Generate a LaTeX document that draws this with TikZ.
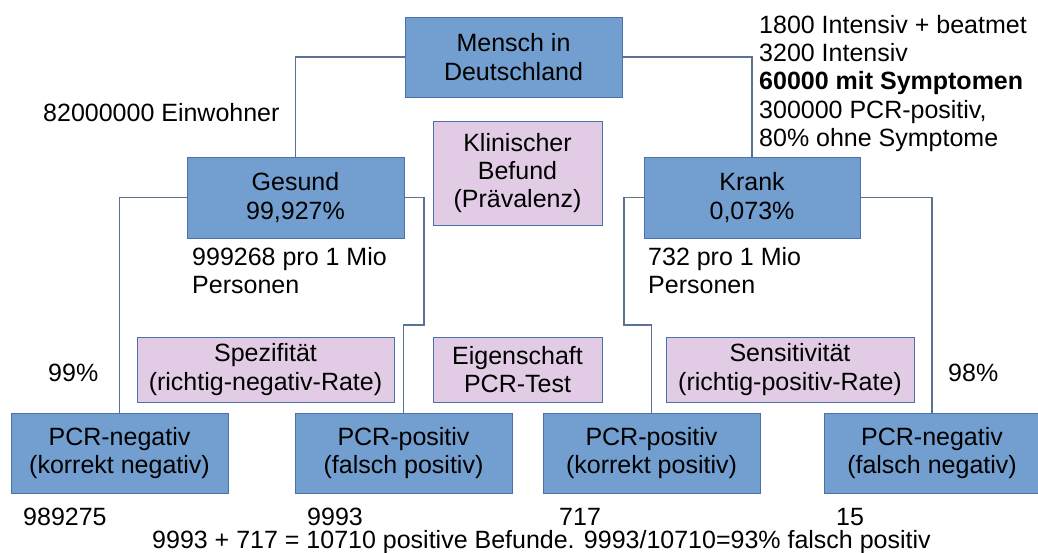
\documentclass[tikz,border=0pt]{standalone}
\usepackage{fontspec}
\setmainfont{Liberation Sans}
\definecolor{boxblue}{HTML}{729FCF}
\definecolor{boxedge}{HTML}{4A72A8}
\definecolor{boxpink}{HTML}{E2CCE5}
\definecolor{wire}{HTML}{5B7393}
\begin{document}
\begin{tikzpicture}[x=1pt,y=-1pt,
  every node/.style={font=\fontsize{25}{28.3}\selectfont, text=black},
  bluebox/.style={draw=boxedge, line width=1pt, fill=boxblue, align=center, minimum width=217pt, minimum height=81pt, inner sep=0pt},
  pinkbox/.style={draw=boxedge, line width=0.8pt, fill=boxpink, align=center, minimum height=65pt, inner sep=0pt},
  lbl/.style={anchor=base west, inner sep=0pt},
  wireline/.style={draw=wire, line width=1.2pt}]
\useasboundingbox (0,0) rectangle (1038,552);
\fill[white] (0,0) rectangle (1038,552);

% main boxes
\node[bluebox, minimum height=80pt] (m) at (513.5,57) {Mensch in\\Deutschland};
\node[bluebox] (g) at (295.5,197.5) {Gesund\\99,927\%};
\node[bluebox, minimum width=216pt] (k) at (752,197.5) {Krank\\0,073\%};
\node[pinkbox, minimum width=169pt, minimum height=104pt] (kb) at (517.5,173) {Klinischer\\Befund\\(Prävalenz)};

\node[bluebox, minimum height=80pt] (pn1) at (119.5,453) {PCR-negativ\\(korrekt negativ)};
\node[bluebox, minimum height=80pt] (pp1) at (403.5,453) {PCR-positiv\\(falsch positiv)};
\node[bluebox, minimum height=80pt] (pp2) at (651.5,453) {PCR-positiv\\(korrekt positiv)};
\node[bluebox, minimum height=80pt, minimum width=216pt] (pn2) at (932,453) {PCR-negativ\\(falsch negativ)};

\node[pinkbox, minimum width=257pt] (sp) at (265.5,369.5) {Spezifität\\(richtig-negativ-Rate)};
\node[pinkbox, minimum width=169pt] (ei) at (517.5,369.5) {Eigenschaft\\PCR-Test};
\node[pinkbox, minimum width=248pt] (se) at (790,369.5) {Sensitivität\\(richtig-positiv-Rate)};

% connectors
\coordinate (gr1) at (424,197.5);
\coordinate (gr2) at (424,325);
\coordinate (kl1) at (624,197.5);
\coordinate (kl2) at (624,325);
\draw[wireline] (m.west) -| (g.north);
\draw[wireline] (m.east) -| (k.north);
\draw[wireline] (g.west) -| (pn1.north);
\draw[wireline] (g.east) -- (gr1) -- (gr2) -| (pp1.north);
\draw[wireline] (k.west) -- (kl1) -- (kl2) -| (pp2.north);
\draw[wireline] (k.east) -| (pn2.north);

% labels
\node[lbl] (ew) at (43,121) {82000000 Einwohner};
\node[lbl] (r1) at (759,33) {1800 Intensiv + beatmet};
\node[lbl] (r2) at (759,61.3) {3200 Intensiv};
\node[lbl] (r3) at (759,89.6) {\bfseries 60000 mit Symptomen};
\node[lbl] (r4) at (759,118) {300000 PCR-positiv,};
\node[lbl] (r5) at (759,146.3) {80\% ohne Symptome};
\node[lbl] (g1) at (192,265) {999268 pro 1 Mio};
\node[lbl] (g2) at (192,293.3) {Personen};
\node[lbl] (k1) at (648,265) {732 pro 1 Mio};
\node[lbl] (k2) at (648,293.3) {Personen};
\node[lbl] (p99) at (48,381) {99\%};
\node[lbl] (p98) at (948,381) {98\%};
\node[lbl] (n1) at (23,525) {989275};
\node[lbl] (n2) at (307,525) {9993};
\node[lbl] (n3) at (559,525) {717};
\node[lbl] (n4) at (836,525) {15};
\node[lbl] (sum) at (152,548) {9993 + 717 = 10710 positive Befunde. 9993/10710=93\% falsch positiv};
\end{tikzpicture}
\end{document}
